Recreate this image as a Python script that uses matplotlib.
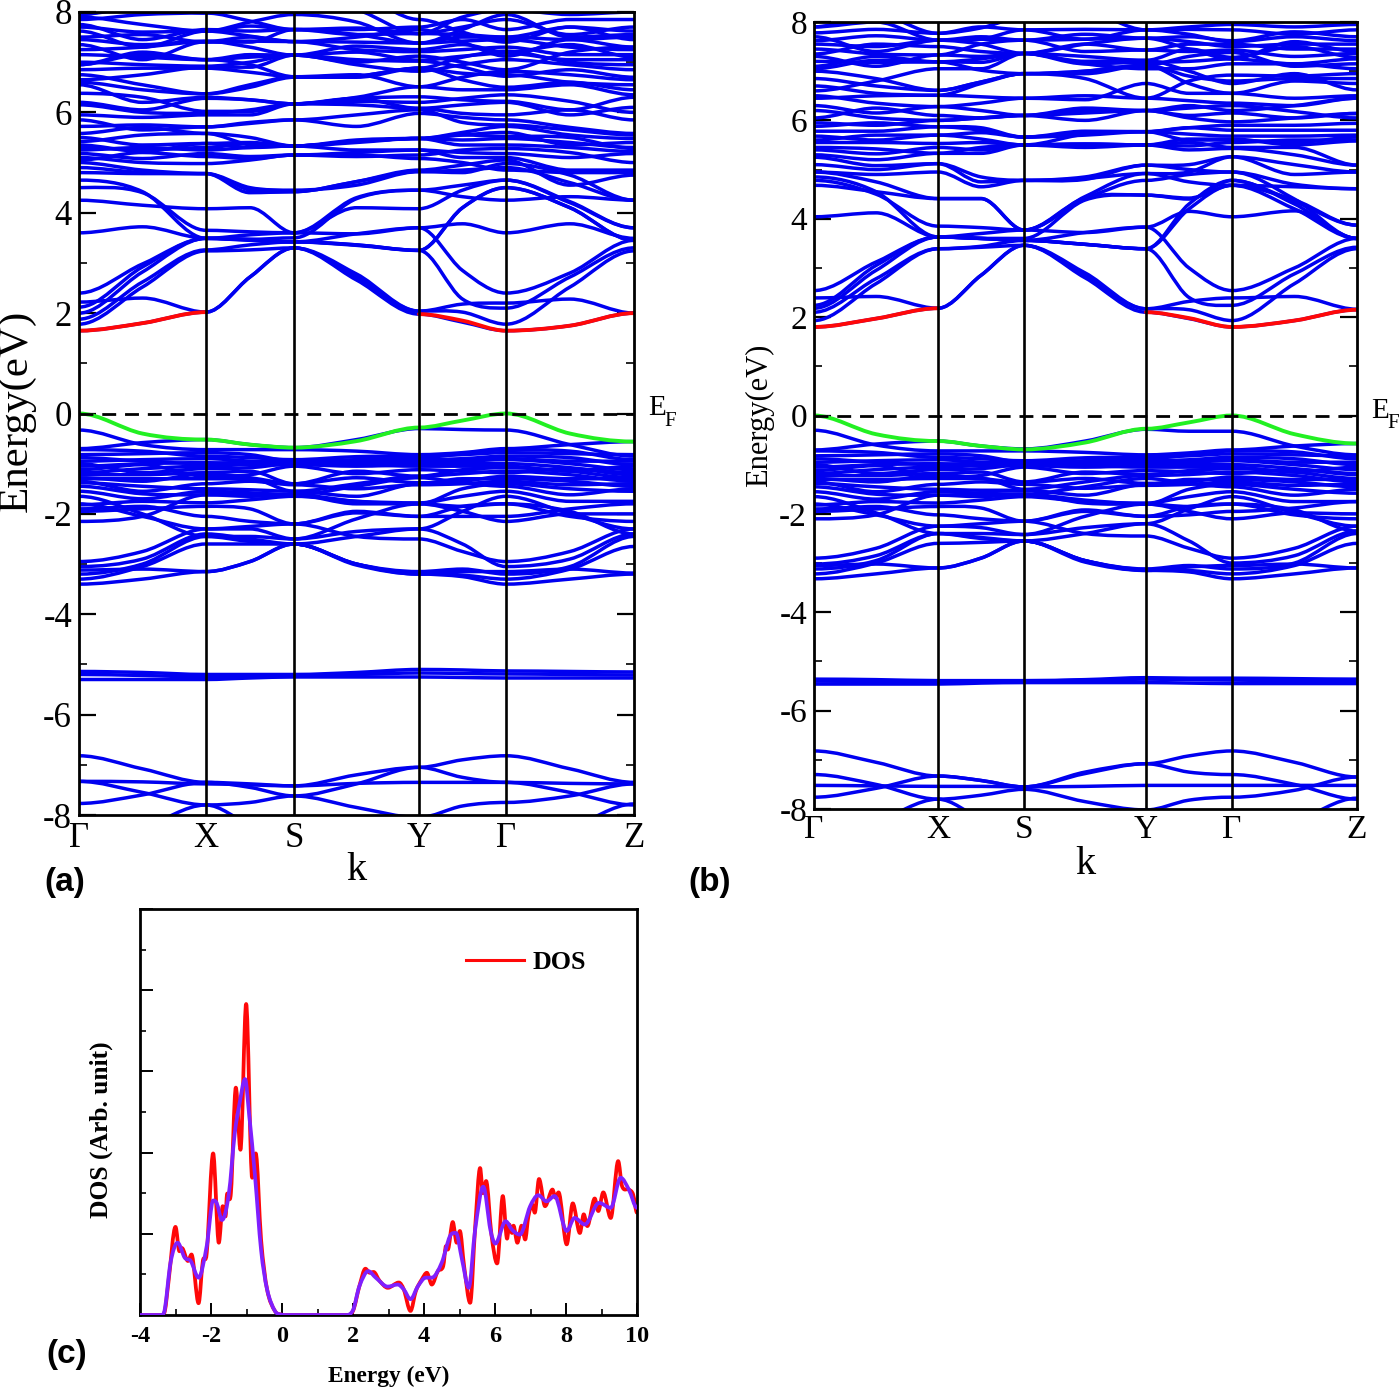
import matplotlib
matplotlib.use("Agg")
import matplotlib.pyplot as plt
import numpy as np
from matplotlib.path import Path
from matplotlib.patches import PathPatch
from matplotlib.ticker import MultipleLocator, NullFormatter

W, H = 1400, 1388
k_labels = ["Γ", "X", "S", "Y", "Γ", "Z"]
k_nodes_a = [0, 1.27, 2.15, 3.40, 4.27, 5.55]
k_nodes_b = [0, 1.24, 2.10, 3.32, 4.18, 5.43]

# band energies at Γ, mid, X, mid, S, mid, Y, mid, Γ, mid, Z
bands_a = [
 [1.65,1.80,2.02,2.72,3.30,2.66,1.98,1.82,1.65,1.75,2.00],
 [1.78,2.52,3.24,3.26,3.30,2.78,2.04,2.02,1.78,2.52,3.24],
 [1.88,2.62,3.26,3.36,3.42,3.35,3.25,2.28,2.10,2.72,3.30],
 [2.00,2.82,3.49,3.45,3.42,3.58,3.70,2.85,2.40,2.80,3.45],
 [2.12,2.92,3.49,3.47,3.50,4.28,4.45,4.32,4.25,4.32,4.25],
 [2.22,2.30,2.02,2.72,3.30,2.72,2.04,2.18,2.20,2.28,2.00],
 [2.40,2.98,3.49,3.46,3.42,3.36,3.25,4.10,4.50,4.10,3.45],
 [3.60,3.72,3.49,3.56,3.60,3.58,3.70,3.78,3.60,3.78,3.49],
 [4.25,4.15,4.08,4.10,3.60,4.10,4.08,4.45,4.65,4.20,3.70],
 [4.50,4.40,3.65,3.62,3.60,4.30,4.45,4.55,4.65,4.22,3.70],
 [4.65,4.42,3.49,3.47,3.42,3.36,3.25,4.10,4.50,4.10,3.45],
 [4.80,4.78,4.78,4.40,4.42,4.62,4.82,4.85,4.90,4.60,4.25],
 [4.90,4.80,4.78,4.50,4.45,4.55,4.82,4.80,4.98,4.75,4.25],
 [5.00,4.85,4.78,4.45,4.42,4.62,4.85,4.95,5.05,4.55,4.75],
 [5.10,5.00,4.98,5.05,5.15,5.15,5.08,5.00,4.85,4.80,4.80],
 [5.18,5.08,5.18,5.12,5.15,5.20,5.25,5.10,5.10,4.85,4.85],
 [5.25,5.30,5.25,5.30,5.33,5.25,5.25,5.20,5.18,5.10,5.18],
 [5.35,5.22,5.38,5.40,5.33,5.45,5.48,5.35,5.35,5.30,5.22],
 [5.42,5.55,5.58,5.35,5.33,5.42,5.48,5.45,5.48,5.40,5.30],
 [5.50,5.35,5.38,5.30,5.33,5.42,5.48,5.55,5.60,5.35,5.40],
 [5.72,5.75,5.71,5.80,5.85,5.72,5.98,5.90,5.85,5.70,5.58],
 [5.85,5.65,5.71,5.78,5.85,5.95,6.05,5.80,5.75,5.65,5.55],
 [5.95,5.90,5.95,5.95,6.17,6.28,6.08,5.98,5.95,6.05,5.85],
 [6.15,6.00,5.98,6.05,6.17,6.15,6.08,6.15,6.20,5.95,6.10],
 [6.20,6.05,6.28,6.25,6.17,6.28,6.31,6.25,6.22,6.05,6.30],
 [6.55,6.20,6.30,6.25,6.17,6.30,6.51,6.45,6.45,6.55,6.35],
 [6.60,6.45,6.37,6.55,6.71,6.72,6.88,6.65,6.50,6.60,6.45],
 [6.75,6.55,6.37,6.50,6.70,6.70,6.88,6.78,6.75,6.60,6.55],
 [6.85,6.88,6.88,6.80,6.71,6.75,6.51,6.70,6.82,6.75,6.65],
 [7.00,6.95,6.92,7.00,7.14,6.95,6.82,6.95,7.05,6.95,6.85],
 [7.15,7.10,7.05,7.15,7.14,7.20,7.04,7.12,7.18,7.05,7.05],
 [7.25,7.30,7.41,7.50,7.41,7.25,7.21,7.25,7.30,7.15,7.15],
 [7.35,7.05,7.41,7.42,7.41,7.40,7.38,7.42,7.45,7.30,7.25],
 [7.50,7.55,7.40,7.40,7.65,7.55,7.38,7.50,7.50,7.45,7.50],
 [7.62,7.30,7.62,7.72,7.65,7.55,7.57,7.55,7.50,7.70,7.62],
 [7.75,7.45,7.65,7.62,7.65,7.68,7.57,7.70,7.85,7.55,7.70],
 [7.85,7.95,7.98,7.82,7.65,7.65,7.70,7.85,7.65,7.85,7.85],
 [7.95,8.20,8.30,8.10,8.30,8.05,7.57,7.90,8.05,7.95,8.00],
 [7.95,8.10,7.98,8.10,8.30,8.30,7.85,7.60,7.40,7.70,7.45],
 [6.95,7.20,7.05,7.10,7.14,7.00,7.12,7.00,6.85,7.20,7.30],
 [5.05,5.20,5.12,5.08,5.15,5.12,5.15,5.25,5.28,5.20,5.00],
 [5.30,5.25,5.30,5.38,5.33,5.40,5.48,5.55,5.52,5.50,5.28],
 [5.58,5.70,5.58,5.50,5.33,5.42,5.48,5.60,5.72,5.55,5.48],
 [6.38,6.30,6.02,6.02,6.17,6.22,6.20,6.28,6.35,6.22,6.00],
 [6.65,6.75,6.90,6.90,7.14,7.05,7.02,6.90,6.72,6.85,6.70],
 [6.95,7.15,7.05,6.95,6.71,6.72,6.88,7.10,7.22,7.00,6.95],
 [7.45,7.35,7.42,7.30,7.14,7.32,7.25,7.35,7.20,7.35,7.10],
 [7.70,7.60,7.62,7.52,7.41,7.50,7.65,7.40,7.12,7.45,7.30],
 [7.90,7.75,7.62,7.80,7.95,7.80,7.38,7.65,7.95,7.50,7.55],
 [-0.70,-0.58,-0.52,-0.62,-0.68,-0.52,-0.30,-0.32,-0.33,-0.62,-0.85],
 [-0.33,-0.62,-0.72,-0.72,-0.72,-0.75,-0.82,-0.78,-0.70,-0.62,-0.56],
 [-0.82,-0.80,-0.78,-0.82,-0.95,-0.92,-0.88,-0.80,-0.72,-0.75,-0.92],
 [-0.95,-0.92,-0.90,-0.95,-1.00,-0.98,-0.92,-0.90,-0.85,-0.88,-1.02],
 [-1.05,-1.00,-0.98,-1.00,-1.02,-1.00,-0.98,-0.95,-0.92,-1.00,-1.12],
 [-1.18,-1.10,-1.05,-1.02,-1.02,-1.05,-1.02,-1.00,-1.00,-1.08,-1.22],
 [-1.22,-1.22,-1.18,-1.15,-1.40,-1.15,-1.25,-1.12,-1.08,-1.15,-1.28],
 [-1.30,-1.30,-1.30,-1.30,-1.55,-1.40,-1.25,-1.20,-1.15,-1.22,-1.35],
 [-1.38,-1.45,-1.50,-1.52,-1.55,-1.65,-1.40,-1.30,-1.30,-1.35,-1.45],
 [-1.45,-1.60,-1.62,-1.60,-1.62,-1.75,-1.80,-1.50,-1.40,-1.50,-1.55],
 [-0.72,-0.75,-0.85,-0.88,-0.92,-0.86,-0.85,-0.82,-0.78,-0.80,-0.82],
 [-0.88,-0.95,-1.00,-0.96,-0.95,-0.94,-0.95,-0.92,-0.90,-0.95,-0.95],
 [-1.00,-1.18,-1.10,-1.08,-1.00,-1.02,-1.05,-1.05,-1.05,-1.15,-1.05],
 [-1.12,-1.02,-1.25,-1.22,-1.05,-1.20,-1.12,-1.15,-1.18,-1.10,-1.18],
 [-1.28,-1.35,-1.20,-1.28,-1.40,-1.28,-1.38,-1.35,-1.25,-1.30,-1.30],
 [-1.35,-1.55,-1.40,-1.35,-1.42,-1.50,-1.42,-1.40,-1.35,-1.42,-1.40],
 [-1.55,-1.70,-1.55,-1.58,-1.62,-1.45,-1.28,-1.38,-1.45,-1.62,-1.50],
 [-1.82,-1.75,-1.78,-1.72,-1.65,-1.75,-1.78,-1.65,-1.55,-1.75,-1.75],
 [-1.90,-1.85,-2.05,-2.15,-2.20,-1.98,-2.05,-1.85,-1.80,-2.05,-2.15],
 [-1.65,-2.00,-2.45,-2.45,-2.50,-2.35,-2.30,-1.95,-1.65,-2.00,-2.30],
 [-1.80,-2.05,-2.30,-2.30,-2.50,-2.10,-1.80,-1.85,-1.80,-1.95,-2.40],
 [-1.95,-1.90,-1.85,-1.90,-2.20,-1.95,-2.05,-2.05,-2.05,-1.90,-1.80],
 [-2.15,-2.05,-1.62,-1.65,-1.62,-1.80,-1.80,-1.95,-2.15,-2.00,-2.00],
 [-2.95,-2.75,-2.30,-2.25,-2.20,-2.45,-2.50,-2.75,-2.95,-2.75,-2.30],
 [-3.05,-2.90,-2.40,-2.50,-2.60,-2.45,-2.30,-2.60,-3.05,-2.90,-2.40],
 [-3.20,-3.00,-2.45,-2.55,-2.60,-3.00,-3.15,-3.10,-3.20,-3.05,-2.45],
 [-3.30,-3.05,-2.60,-2.60,-2.60,-3.00,-3.18,-3.22,-3.30,-3.10,-2.65],
 [-3.12,-3.10,-3.15,-2.95,-2.60,-3.00,-3.20,-3.15,-3.15,-3.10,-3.18],
 [-3.40,-3.30,-3.15,-2.95,-2.60,-3.02,-3.20,-3.25,-3.40,-3.30,-3.20],
 [-5.14,-5.16,-5.20,-5.20,-5.20,-5.16,-5.10,-5.11,-5.13,-5.14,-5.15],
 [-5.20,-5.22,-5.25,-5.23,-5.22,-5.20,-5.17,-5.18,-5.19,-5.20,-5.21],
 [-5.30,-5.30,-5.30,-5.27,-5.25,-5.25,-5.25,-5.26,-5.27,-5.27,-5.27],
 [-6.82,-7.08,-7.35,-7.38,-7.42,-7.20,-7.05,-6.90,-6.82,-7.08,-7.35],
 [-7.33,-7.55,-7.80,-7.75,-7.62,-7.85,-8.05,-7.82,-7.75,-7.62,-7.38],
 [-7.33,-7.34,-7.38,-7.40,-7.42,-7.37,-7.35,-7.35,-7.35,-7.37,-7.38],
 [-7.77,-7.60,-7.35,-7.45,-7.62,-7.38,-7.05,-7.25,-7.35,-7.55,-7.80],
 [-8.50,-8.25,-7.80,-8.20,-8.50,-8.50,-8.05,-8.40,-8.50,-8.25,-7.78],
]
red_a = [1.65,1.80,2.02,2.72,3.30,2.66,1.98,1.85,1.65,1.75,2.00]
green_a = [0.00,-0.40,-0.52,-0.62,-0.68,-0.55,-0.28,-0.14,0.00,-0.40,-0.56]

bands_b = [
 [1.80,1.97,2.18,2.85,3.46,2.80,2.10,1.97,1.80,1.93,2.15],
 [1.93,2.68,3.39,3.42,3.46,2.90,2.17,2.15,1.93,2.68,3.39],
 [2.10,2.78,3.39,3.44,3.56,3.48,3.39,2.40,2.24,2.88,3.42],
 [2.18,2.95,3.63,3.60,3.56,3.72,3.83,3.00,2.54,3.00,3.60],
 [2.24,3.05,3.63,3.60,3.60,4.38,4.48,4.42,4.68,4.38,3.87],
 [2.39,2.42,2.18,2.85,3.46,2.85,2.17,2.32,2.39,2.42,2.16],
 [2.54,3.12,3.63,3.60,3.56,3.48,3.39,4.20,4.68,4.20,3.60],
 [4.04,4.12,3.63,3.70,3.77,3.72,3.83,4.15,4.04,4.16,3.60],
 [4.68,4.55,4.41,4.41,3.77,4.42,4.48,4.40,4.78,4.35,3.87],
 [4.78,4.50,3.85,3.82,3.77,4.40,4.78,4.90,4.95,4.40,3.60],
 [4.85,4.55,3.63,3.60,3.56,3.48,3.39,4.30,4.78,4.30,3.60],
 [4.95,4.75,4.41,4.41,3.77,4.45,4.92,4.75,4.68,4.65,4.61],
 [4.95,4.90,4.95,4.65,4.78,4.85,5.09,5.00,4.95,4.70,4.61],
 [5.10,5.00,5.12,4.85,4.78,4.80,5.09,5.10,5.26,4.90,4.95],
 [5.25,5.08,5.12,4.75,4.78,4.82,4.92,4.95,5.26,5.10,4.95],
 [5.30,5.20,5.33,5.33,5.50,5.50,5.50,5.40,5.43,5.30,5.09],
 [5.45,5.42,5.33,5.45,5.50,5.52,5.50,5.55,5.45,5.45,5.09],
 [5.55,5.55,5.53,5.55,5.50,5.52,5.50,5.48,5.55,5.60,5.60],
 [5.60,5.70,5.70,5.62,5.50,5.72,5.77,5.60,5.60,5.55,5.66],
 [5.68,5.60,5.70,5.75,5.66,5.70,5.77,5.72,5.68,5.68,5.70],
 [5.78,5.78,5.87,5.80,5.66,5.75,5.77,5.85,5.80,5.80,5.80],
 [5.88,5.95,5.87,5.85,5.66,5.78,5.77,5.85,5.90,5.90,5.94],
 [5.95,5.90,6.00,6.05,6.10,6.00,6.20,6.05,5.97,6.05,6.14],
 [6.20,6.05,6.00,6.05,6.10,6.20,6.20,6.10,6.15,6.05,6.14],
 [6.30,6.15,6.28,6.20,6.10,6.25,6.20,6.30,6.20,6.30,6.45],
 [6.50,6.35,6.28,6.35,6.45,6.50,6.45,6.40,6.35,6.30,6.45],
 [6.45,6.50,6.51,6.48,6.45,6.42,6.75,6.55,6.55,6.45,6.50],
 [6.70,6.55,6.51,6.75,6.95,7.00,7.12,6.75,6.55,6.80,6.75],
 [6.85,6.70,6.61,6.78,6.95,6.95,7.12,6.90,6.80,6.85,6.85],
 [7.00,6.85,6.61,6.78,6.95,6.85,6.45,6.80,6.92,6.90,6.95],
 [7.10,7.30,7.19,7.25,7.36,7.15,7.05,7.05,7.15,7.15,7.05],
 [7.20,7.18,7.19,7.18,7.36,7.15,7.18,7.20,7.25,7.15,7.25],
 [7.30,7.10,7.33,7.30,7.36,7.55,7.43,7.40,7.43,7.30,7.36],
 [7.45,7.35,7.33,7.55,7.63,7.40,7.43,7.55,7.55,7.45,7.45],
 [7.55,7.50,7.63,7.70,7.63,7.65,7.67,7.60,7.50,7.55,7.55],
 [7.70,7.40,7.63,7.65,7.63,7.75,7.67,7.70,7.62,7.80,7.70],
 [7.78,7.85,7.77,7.90,7.84,7.85,7.84,7.85,7.84,7.75,7.84],
 [7.90,8.00,7.63,7.65,7.84,7.65,7.84,7.90,7.95,7.90,7.95],
 [7.90,8.15,7.77,7.88,8.10,8.20,7.84,7.75,7.60,7.70,7.62],
 [5.40,5.32,5.45,5.40,5.50,5.45,5.50,5.62,5.62,5.50,5.58],
 [6.05,6.25,6.10,6.05,6.10,6.15,6.20,6.25,6.30,6.18,6.05],
 [6.60,6.80,7.05,7.05,7.36,7.20,7.22,7.00,6.75,6.95,6.62],
 [7.05,7.22,7.19,7.02,6.95,7.00,7.12,7.30,7.38,7.10,7.15],
 [7.35,7.55,7.50,7.40,7.36,7.30,7.22,7.45,7.28,7.50,7.28],
 [7.62,7.72,7.63,7.55,7.36,7.55,7.67,7.45,7.25,7.60,7.40],
 [-0.70,-0.58,-0.52,-0.62,-0.68,-0.52,-0.28,-0.32,-0.32,-0.62,-0.80],
 [-0.30,-0.60,-0.72,-0.72,-0.72,-0.75,-0.80,-0.76,-0.70,-0.62,-0.57],
 [-0.82,-0.80,-0.78,-0.82,-0.95,-0.92,-0.88,-0.80,-0.72,-0.74,-0.88],
 [-0.95,-0.92,-0.90,-0.95,-1.00,-0.98,-0.92,-0.90,-0.85,-0.88,-1.00],
 [-1.05,-1.00,-0.98,-1.00,-1.02,-1.00,-0.98,-0.95,-0.92,-1.00,-1.10],
 [-1.18,-1.10,-1.05,-1.02,-1.02,-1.05,-1.02,-1.00,-1.00,-1.08,-1.20],
 [-1.22,-1.22,-1.18,-1.15,-1.35,-1.15,-1.20,-1.12,-1.08,-1.15,-1.28],
 [-1.30,-1.30,-1.28,-1.28,-1.50,-1.35,-1.22,-1.20,-1.15,-1.22,-1.35],
 [-1.38,-1.45,-1.50,-1.52,-1.52,-1.62,-1.40,-1.30,-1.30,-1.35,-1.45],
 [-1.45,-1.60,-1.62,-1.60,-1.60,-1.72,-1.80,-1.50,-1.40,-1.50,-1.58],
 [-0.72,-0.75,-0.85,-0.88,-0.92,-0.86,-0.85,-0.82,-0.78,-0.80,-0.82],
 [-0.88,-0.95,-1.00,-0.96,-0.95,-0.94,-0.95,-0.92,-0.90,-0.95,-0.95],
 [-1.00,-1.18,-1.10,-1.08,-1.00,-1.02,-1.05,-1.05,-1.05,-1.15,-1.05],
 [-1.12,-1.02,-1.25,-1.22,-1.05,-1.18,-1.12,-1.15,-1.18,-1.10,-1.18],
 [-1.28,-1.35,-1.20,-1.28,-1.36,-1.28,-1.38,-1.35,-1.25,-1.30,-1.30],
 [-1.35,-1.55,-1.40,-1.35,-1.40,-1.48,-1.42,-1.40,-1.35,-1.42,-1.40],
 [-1.55,-1.70,-1.55,-1.58,-1.60,-1.45,-1.28,-1.38,-1.45,-1.62,-1.50],
 [-1.82,-1.75,-1.78,-1.72,-1.65,-1.75,-1.78,-1.65,-1.55,-1.75,-1.75],
 [-1.90,-1.85,-2.02,-2.10,-2.15,-1.95,-2.05,-1.85,-1.80,-2.02,-2.10],
 [-1.65,-1.98,-2.40,-2.40,-2.42,-2.28,-2.20,-1.90,-1.65,-1.98,-2.25],
 [-1.80,-2.02,-2.25,-2.28,-2.42,-2.05,-1.80,-1.85,-1.80,-1.92,-2.35],
 [-1.95,-1.90,-1.85,-1.88,-2.15,-1.92,-2.05,-2.02,-1.95,-1.88,-1.75],
 [-2.10,-2.02,-1.62,-1.65,-1.60,-1.78,-1.80,-1.95,-2.10,-1.98,-2.00],
 [-2.90,-2.70,-2.25,-2.20,-2.15,-2.40,-2.45,-2.70,-2.90,-2.70,-2.25],
 [-3.02,-2.85,-2.40,-2.48,-2.55,-2.40,-2.20,-2.55,-3.00,-2.85,-2.35],
 [-3.12,-2.95,-2.40,-2.50,-2.55,-2.95,-3.12,-3.05,-3.12,-3.00,-2.40],
 [-3.22,-3.00,-2.60,-2.58,-2.55,-2.95,-3.13,-3.15,-3.22,-3.05,-2.60],
 [-3.05,-3.02,-3.10,-2.90,-2.55,-2.95,-3.15,-3.08,-3.05,-3.02,-3.10],
 [-3.32,-3.22,-3.10,-2.90,-2.55,-2.98,-3.15,-3.18,-3.32,-3.22,-3.10],
 [-5.36,-5.37,-5.39,-5.39,-5.39,-5.37,-5.33,-5.34,-5.34,-5.35,-5.36],
 [-5.40,-5.41,-5.42,-5.41,-5.40,-5.38,-5.36,-5.37,-5.38,-5.39,-5.39],
 [-5.46,-5.46,-5.46,-5.44,-5.43,-5.43,-5.43,-5.44,-5.45,-5.45,-5.45],
 [-6.82,-7.05,-7.33,-7.42,-7.55,-7.25,-7.08,-6.92,-6.82,-7.05,-7.35],
 [-7.30,-7.50,-7.80,-7.72,-7.60,-7.85,-8.02,-7.82,-7.76,-7.62,-7.35],
 [-7.52,-7.53,-7.54,-7.54,-7.55,-7.54,-7.52,-7.52,-7.52,-7.52,-7.52],
 [-7.76,-7.58,-7.33,-7.42,-7.55,-7.28,-7.08,-7.25,-7.30,-7.50,-7.80],
 [-8.50,-8.25,-7.80,-8.20,-8.50,-8.50,-8.02,-8.40,-8.50,-8.25,-7.78],
]
red_b = [1.80,1.97,2.18,2.85,3.46,2.80,2.10,1.98,1.80,1.93,2.15]
green_b = [0.00,-0.38,-0.52,-0.62,-0.69,-0.55,-0.27,-0.14,0.00,-0.38,-0.57]

# density of states (x in eV, y on the ten-division arbitrary scale)
dos_e = [-4,-3.4,-3.3,-3.2,-3.0,-2.89,-2.82,-2.65,-2.55,-2.35,-2.23,-2.12,-1.94,-1.78,-1.67,-1.59,-1.55,-1.44,-1.3,-1.17,-1.01,-0.84,-0.74,-0.59,-0.42,-0.2,-0.02,0.2,1.8,2.0,2.18,2.35,2.47,2.58,2.75,2.98,3.29,3.43,3.62,3.77,3.94,4.08,4.22,4.39,4.54,4.62,4.67,4.81,4.92,5.01,5.13,5.3,5.44,5.58,5.66,5.75,5.9,6.06,6.22,6.34,6.4,6.48,6.52,6.63,6.75,6.85,6.94,7.05,7.12,7.24,7.41,7.62,7.7,7.79,8.02,8.19,8.39,8.5,8.6,8.81,8.91,9.05,9.26,9.47,9.58,9.77,9.89,10]
dos_v = [0,0,0.1,0.8,2.17,1.57,1.65,1.33,1.49,0.29,1.33,1.53,3.98,1.78,2.68,2.43,2.97,3.0,5.6,4.07,7.66,3.38,3.98,1.86,0.63,0.1,0.01,0,0,0.1,0.71,1.14,1.04,1.06,0.84,0.67,0.8,0.63,0.1,0.59,0.88,1.04,0.75,1.08,1.2,1.7,1.61,2.29,1.78,2.07,1.2,0.3,2.15,3.62,3.0,3.3,1.98,1.27,2.93,1.88,2.23,2.02,2.2,1.78,2.2,1.86,2.43,2.72,2.52,3.35,2.68,3.09,2.89,3.02,1.74,2.75,2.02,2.48,2.19,2.87,2.56,3.02,2.39,3.79,3.17,3.09,2.97,2.52]
smooth_e = [-4,-3.4,-3.3,-3.14,-2.94,-2.74,-2.57,-2.35,-2.12,-1.94,-1.84,-1.69,-1.5,-1.33,-1.21,-1.04,-0.93,-0.76,-0.59,-0.42,-0.2,-0.02,0.2,1.8,2.0,2.18,2.43,2.64,2.98,3.26,3.43,3.62,3.83,4.05,4.22,4.5,4.73,4.9,5.07,5.26,5.44,5.67,5.87,6.01,6.3,6.48,6.7,6.99,7.22,7.45,7.68,8.02,8.24,8.53,8.93,9.26,9.54,9.77,10]
smooth_v = [0,0,0.15,1.29,1.78,1.41,1.33,0.92,1.7,2.82,2.76,2.34,2.97,4.48,5.14,5.81,4.98,3.42,1.61,0.63,0.1,0.01,0,0,0.12,0.71,1.08,0.92,0.7,0.75,0.63,0.39,0.71,0.92,0.92,1.29,1.94,2.02,1.37,0.67,2.1,3.16,2.1,1.76,2.31,2.1,1.98,2.68,2.95,2.8,2.93,2.07,2.39,2.23,2.76,2.64,3.38,3.09,2.64]

SERIF = "Liberation Serif"
BLUE, RED, GREEN, PURPLE = "#0000f0", "#ff0808", "#22f022", "#7f1fff"
BAND_LW = 2.5

def axes_px(fig, l, t, r, b):
    return fig.add_axes([l/W, 1-b/H, (r-l)/W, (b-t)/H])

def curve(ax, x, y, color, lw, flat=None, zorder=2):
    x, y = np.asarray(x, float), np.asarray(y, float)
    m = np.zeros(len(x))
    for i in range(1, len(x)-1):
        if (y[i]-y[i-1])*(y[i+1]-y[i]) > 0 and not (flat is not None and i % flat == 0):
            m[i] = (y[i+1]-y[i-1])/(x[i+1]-x[i-1])
    verts, codes = [(x[0], y[0])], [Path.MOVETO]
    for i in range(len(x)-1):
        h = x[i+1]-x[i]
        verts += [(x[i]+h/3, y[i]+m[i]*h/3), (x[i+1]-h/3, y[i+1]-m[i+1]*h/3), (x[i+1], y[i+1])]
        codes += [Path.CURVE4]*3
    ax.add_patch(PathPatch(Path(verts, codes), fill=False, edgecolor=color, lw=lw,
                           capstyle="round", joinstyle="round", zorder=zorder))

def band_panel(fig, box, nodes, bands, red, green, tick_fs, k_tick_pad):
    ax = axes_px(fig, *box)
    kp = [nodes[0]]
    for a, b in zip(nodes[:-1], nodes[1:]):
        kp += [(a+b)/2, b]
    kp = np.array(kp)
    for row in bands:
        curve(ax, kp, row, BLUE, BAND_LW, flat=2)
    curve(ax, kp[:3], red[:3], RED, BAND_LW+0.3, zorder=3)
    curve(ax, kp[6:], red[6:], RED, BAND_LW+0.3, flat=2, zorder=3)
    curve(ax, kp, green, GREEN, BAND_LW+0.3, flat=2, zorder=3)
    for n in nodes[1:-1]:
        ax.axvline(n, color="k", lw=1.9, zorder=4)
    ax.axhline(0, color="k", lw=2.0, dashes=(5.0, 3.2), zorder=5)
    ax.set_xlim(nodes[0], nodes[-1]); ax.set_ylim(-8, 8)
    ax.set_xticks(nodes); ax.set_xticklabels(k_labels, family=SERIF, fontsize=tick_fs)
    ax.tick_params(axis="x", length=0, pad=k_tick_pad)
    ax.yaxis.set_major_locator(MultipleLocator(2)); ax.yaxis.set_minor_locator(MultipleLocator(1))
    ax.tick_params(axis="y", which="major", direction="in", length=12, width=1.6, left=True, right=True, pad=5)
    ax.tick_params(axis="y", which="minor", direction="in", length=6, width=1.2, left=True, right=True)
    ax.yaxis.set_major_formatter(lambda v, _: f"{int(v)}")
    for t in ax.get_yticklabels():
        t.set_family(SERIF); t.set_fontsize(tick_fs)
    for s in ax.spines.values():
        s.set_linewidth(2.0); s.set_zorder(6)
    return ax

fig = plt.figure(figsize=(W/100, H/100), dpi=100)

def label(x, y, s, fs, family=SERIF, weight="normal", rotation=0, ha="center", va="center"):
    fig.text(x/W, 1-y/H, s, fontsize=fs, family=family, fontweight=weight, rotation=rotation, ha=ha, va=va)

band_panel(fig, (79, 12, 634, 815), k_nodes_a, bands_a, red_a, green_a, 25, 5)
label(17, 411, "Energy(eV)", 31, rotation=90)
label(356, 871, "k", 29)
label(648, 408, "E", 21, ha="left")
label(664, 422, "F", 15, ha="left")
label(44, 882, "(a)", 24, family="Liberation Sans", weight="bold", ha="left")

band_panel(fig, (814, 22, 1357, 809), k_nodes_b, bands_b, red_b, green_b, 24, 4)
label(760, 415, "Energy(eV)", 22, rotation=90)
label(1085, 864, "k", 29)
label(1371, 411, "E", 21, ha="left")
label(1387, 424, "F", 15, ha="left")
label(688, 882, "(b)", 24, family="Liberation Sans", weight="bold", ha="left")

ax = axes_px(fig, 140, 909, 637, 1315)
curve(ax, dos_e, dos_v, RED, 2.7, zorder=2)
curve(ax, smooth_e, smooth_v, PURPLE, 2.7, zorder=3)
leg_line, = ax.plot([], [], color=RED, lw=2.2, label="DOS")
ax.legend(handles=[leg_line], loc="upper left", bbox_to_anchor=(0.656, 0.898), frameon=False, handlelength=2.25,
          handletextpad=0.3, borderpad=0, borderaxespad=0,
          prop=dict(family=SERIF, weight="bold", size=18.7))
ax.set_xlim(-4, 10); ax.set_ylim(0, 10)
ax.xaxis.set_major_locator(MultipleLocator(2)); ax.xaxis.set_minor_locator(MultipleLocator(1))
ax.yaxis.set_major_locator(MultipleLocator(2)); ax.yaxis.set_minor_locator(MultipleLocator(1))
ax.yaxis.set_major_formatter(NullFormatter())
ax.tick_params(which="major", direction="in", length=9, width=1.4)
ax.tick_params(which="minor", direction="in", length=4.5, width=1.2)
ax.tick_params(axis="x", pad=8)
ax.xaxis.set_major_formatter(lambda v, _: f"{int(v)}")
for t in ax.get_xticklabels():
    t.set_family(SERIF); t.set_fontsize(17.5); t.set_fontweight("bold")
for s in ax.spines.values():
    s.set_linewidth(2.0)
label(101, 1130, "DOS (Arb. unit)", 18.4, weight="bold", rotation=90)
label(389, 1376, "Energy (eV)", 16.8, weight="bold")
label(46, 1354, "(c)", 24, family="Liberation Sans", weight="bold", ha="left")

fig.savefig("out.png", dpi=100)
